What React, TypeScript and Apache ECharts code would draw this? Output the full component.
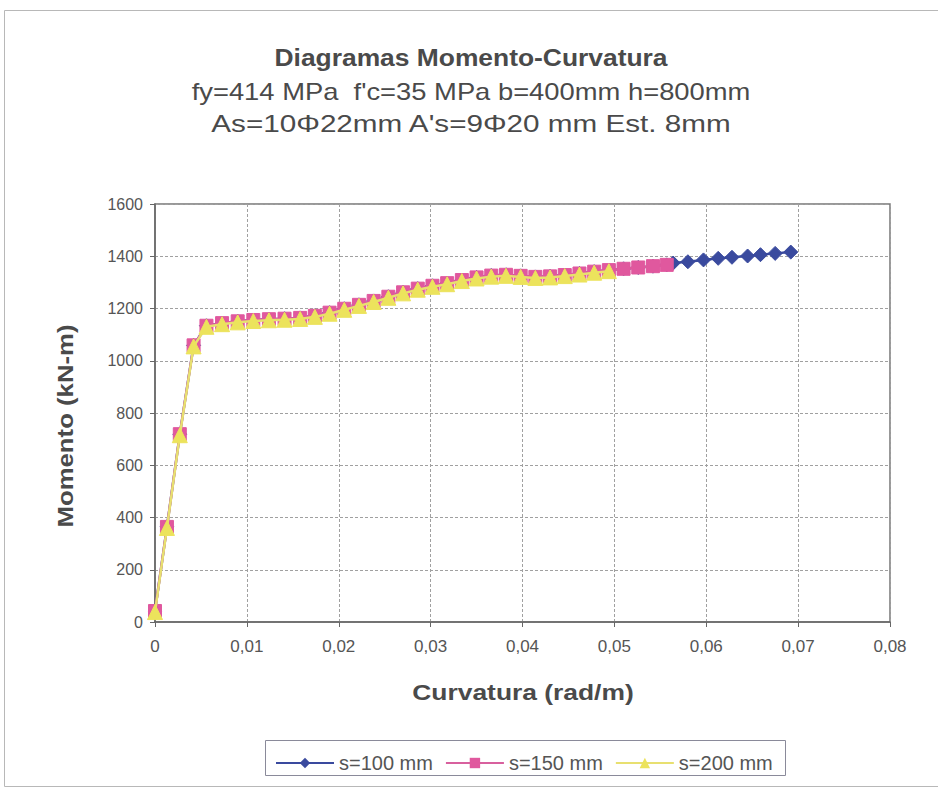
import React, { useEffect, useRef } from "react";
import * as echarts from "echarts";

const titleLines = [
  "Diagramas Momento-Curvatura",
  "fy=414 MPa  f'c=35 MPa b=400mm h=800mm",
  "As=10Φ22mm A's=9Φ20 mm Est. 8mm",
];
const xAxisName = "Curvatura (rad/m)";
const yAxisName = "Momento (kN-m)";
const seriesNames = ["s=100 mm", "s=150 mm", "s=200 mm"];

// s=200 mm
const curv200 = [0, 0.0013, 0.0027, 0.0042, 0.0056, 0.0073, 0.009, 0.0107, 0.0124, 0.0141, 0.0158, 0.0174, 0.019, 0.0206, 0.0222, 0.0238, 0.0254, 0.027, 0.0286, 0.0302, 0.0318, 0.0334, 0.035, 0.0366, 0.0382, 0.0398, 0.0414, 0.043, 0.0446, 0.0462, 0.0478, 0.0494];
const mom200 = [38, 360, 715, 1055, 1130, 1140, 1147, 1152, 1155, 1157, 1160, 1168, 1180, 1195, 1210, 1225, 1241, 1258, 1272, 1283, 1293, 1305, 1315, 1322, 1325, 1321, 1317, 1319, 1324, 1330, 1337, 1343];

// s=150 mm
const curv150 = [...curv200, 0.051, 0.0526, 0.0542, 0.0557];
const mom150 = [...mom200.map((m) => m + 4), 1352, 1357, 1362, 1367];

// s=100 mm
const curv100 = [...curv150, 0.0564, 0.058, 0.0597, 0.0613, 0.0628, 0.0645, 0.0659, 0.0675, 0.0692];
const mom100 = [...mom150, 1374, 1379, 1386, 1392, 1396, 1401, 1406, 1411, 1416];

const xTicks = [0, 0.01, 0.02, 0.03, 0.04, 0.05, 0.06, 0.07, 0.08];
const yTicks = [0, 200, 400, 600, 800, 1000, 1200, 1400, 1600];

const colors = ["#3A4A9E", "#E0589E", "#ECE35C"];
const lineColors = ["#3A4A9E", "#D8609E", "#E8E070"];
const symbols = ["diamond", "rect", "triangle"];
const symbolSizes = [14, 13, 15];

const FONT = "Liberation Sans, Arial, sans-serif";
const zip = (xs: number[], ys: number[]) => xs.map((x, i) => [x, ys[i]]);

export default function App() {
  const ref = useRef<HTMLDivElement>(null);
  useEffect(() => {
    if (!ref.current) return;
    const chart = echarts.init(ref.current, undefined, { renderer: "svg" });
    const datas = [zip(curv100, mom100), zip(curv150, mom150), zip(curv200, mom200)];
    const fmtX = (v: number) => {
      const r = Math.round(v * 100) / 100;
      return r === 0 ? "0" : r.toFixed(2).replace(".", ",");
    };
    const txt = (
      text: string,
      x: number,
      y: number,
      size: number,
      bold: boolean,
      sx: number,
      rotation = 0
    ) => ({
      type: "text",
      x,
      y,
      rotation,
      scaleX: sx,
      style: {
        text,
        font: `${bold ? "bold " : ""}${size}px ${FONT}`,
        fill: "#4a4a4a",
        align: "center",
        verticalAlign: "middle",
      },
      silent: true,
    });
    chart.setOption({
      animation: false,
      backgroundColor: "#ffffff",
      textStyle: { fontFamily: FONT },
      graphic: [
        {
          type: "rect",
          shape: { x: 4.5, y: 10.5, width: 940, height: 776 },
          style: { fill: "none", stroke: "#b8b8b8", lineWidth: 1 },
          silent: true,
        },
        txt(titleLines[0], 471, 57, 24, true, 1.1),
        txt(titleLines[1], 471, 92, 23, false, 1.19),
        txt(titleLines[2], 471, 124, 23, false, 1.29),
        txt(xAxisName, 523, 692, 22, true, 1.2),
        txt(yAxisName, 65, 426, 22, true, 1.17, Math.PI / 2),
        {
          type: "rect",
          shape: { x: 265.5, y: 740.5, width: 520, height: 35 },
          style: { fill: "#ffffff", stroke: "#8a8a9a", lineWidth: 1 },
          z: 0,
        },
      ],
      legend: {
        top: 748,
        left: 270,
        itemGap: 12,
        itemWidth: 58,
        itemHeight: 13,
        data: seriesNames,
        textStyle: { fontSize: 20, color: "#555555", fontFamily: FONT },
        z: 5,
      },
      grid: {
        left: 155,
        right: 48,
        top: 204,
        bottom: 168,
        show: true,
        borderColor: "#777777",
        borderWidth: 1.5,
        backgroundColor: "transparent",
      },
      xAxis: {
        type: "value",
        min: 0,
        max: 0.08,
        interval: 0.01,
        axisLine: { show: true, lineStyle: { color: "#666", width: 1.5 } },
        axisTick: { show: true, inside: false, length: 5, lineStyle: { color: "#666" } },
        axisLabel: { formatter: fmtX, fontSize: 17, color: "#555", margin: 16 },
        splitLine: { show: true, lineStyle: { color: "#a0a0a0", type: [3, 2], width: 1 } },
      },
      yAxis: {
        type: "value",
        min: 0,
        max: 1600,
        interval: 200,
        axisLine: { show: true, lineStyle: { color: "#666", width: 1.5 } },
        axisTick: { show: true, inside: false, length: 5, lineStyle: { color: "#666" } },
        axisLabel: { formatter: (v: number) => String(v), fontSize: 16, color: "#555", margin: 12 },
        splitLine: { show: true, lineStyle: { color: "#a0a0a0", type: [3, 2], width: 1 } },
      },
      series: seriesNames.map((name, i) => ({
        name,
        type: "line",
        data: datas[i],
        symbol: symbols[i],
        symbolSize: symbolSizes[i],
        showAllSymbol: true,
        lineStyle: { color: lineColors[i], width: 2.5 },
        itemStyle: { color: colors[i], borderColor: colors[i] },
        z: 2 + i,
      })),
    });
    return () => chart.dispose();
  }, []);
  return (
    <div
      ref={ref}
      style={{ position: "fixed", left: 0, top: 0, width: 938, height: 790 }}
    />
  );
}
